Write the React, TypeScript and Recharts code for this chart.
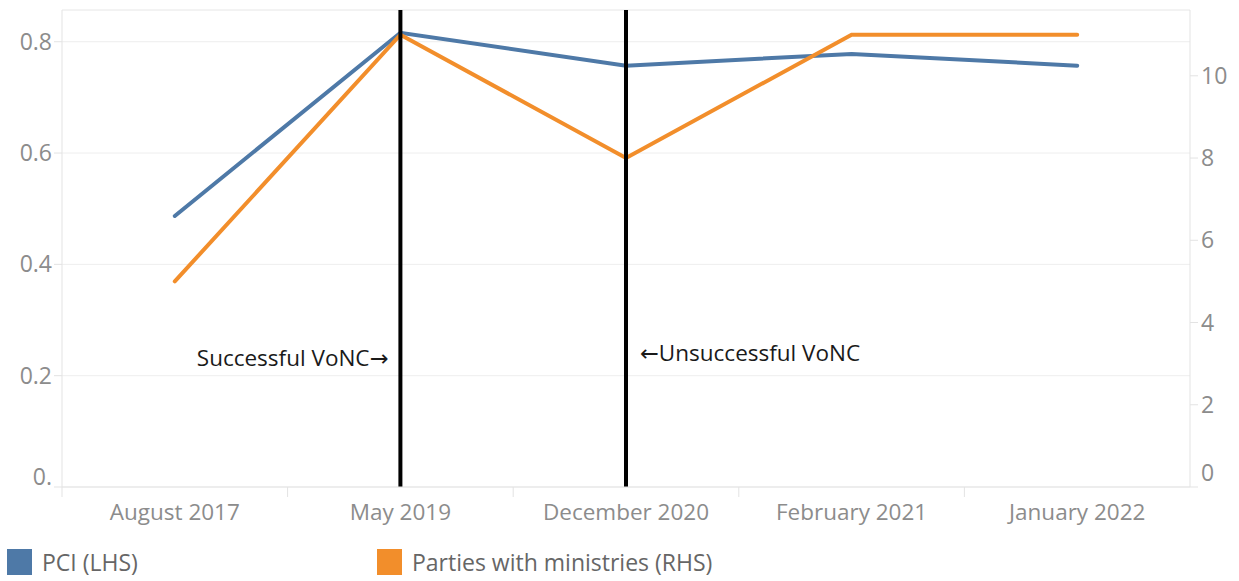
import React from 'react';
import { LineChart, Line, XAxis, YAxis, CartesianGrid, ReferenceLine, Legend } from 'recharts';

const categories = ['August 2017', 'May 2019', 'December 2020', 'February 2021', 'January 2022'];
const pciValues = [0.487, 0.816, 0.757, 0.778, 0.757];
const ministriesValues = [5, 11, 8, 11, 11];
const leftTicks = [0, 0.2, 0.4, 0.6, 0.8];
const rightTicks = [0, 2, 4, 6, 8, 10];
const eventDates = ['May 2019', 'December 2020'];
const eventLabels = ['Successful VoNC', 'Unsuccessful VoNC'];

const LEFT_MAX = 0.857;
const RIGHT_MAX = 11.6;

const BLUE = '#4e79a7';
const ORANGE = '#f28e2b';
const FONT = '"Open Sans", sans-serif';
const AXIS_GREY = '#e3e3e3';
const TICK_GREY = '#8c8c8c';

const data = categories.map((c, i) => ({
    period: c,
    pci: pciValues[i],
    ministries: ministriesValues[i],
}));

const XTick = (props: any) => {
    const { x, y, payload } = props;
    const half = payload.offset || 0;
    return (
        <g>
            <line x1={x - half} x2={x - half} y1={y - 8} y2={y + 2} stroke={AXIS_GREY} />
            <text x={x} y={y + 25} textAnchor="middle" fill={TICK_GREY} fontSize={22.5} fontFamily={FONT}>
                {payload.value}
            </text>
        </g>
    );
};

const YTick = (props: any) => {
    const { x, y, payload, side } = props;
    const shift = payload.value === 0 ? (side === 'left' ? -10 : -14) : 0;
    const label = side === 'left' ? (payload.value === 0 ? '0.' : payload.value.toFixed(1)) : String(payload.value);
    return (
        <text
            x={x}
            y={y + shift + 8}
            textAnchor={side === 'left' ? 'end' : 'start'}
            fill={TICK_GREY}
            fontSize={23}
            fontFamily={FONT}
        >
            {label}
        </text>
    );
};

const EventLabel = (text: string, side: 'left' | 'right', dy: number) => (props: any) => {
    const { viewBox } = props;
    const x = side === 'left' ? viewBox.x - 12 : viewBox.x + 14;
    const arrow = <tspan fontFamily="DejaVu Sans">{side === 'left' ? '\u2192' : '\u2190'}</tspan>;
    return (
        <text
            x={x}
            y={viewBox.y + dy}
            textAnchor={side === 'left' ? 'end' : 'start'}
            fill="#1a1a1a"
            fontSize={22.5}
            fontWeight={500}
            fontFamily={FONT}
        >
            {side === 'right' && arrow}
            {text}
            {side === 'left' && arrow}
        </text>
    );
};

const LegendContent = () => (
    <div
        style={{
            display: 'flex',
            alignItems: 'flex-end',
            height: 49,
            boxSizing: 'border-box',
            paddingBottom: 3,
            fontFamily: FONT,
            fontSize: 23,
            color: '#666',
        }}
    >
        <div style={{ display: 'flex', alignItems: 'center', width: 370, paddingLeft: 7 }}>
            <span style={{ display: 'inline-block', width: 25, height: 26, background: BLUE, marginRight: 10 }} />
            PCI (LHS)
        </div>
        <div style={{ display: 'flex', alignItems: 'center' }}>
            <span style={{ display: 'inline-block', width: 25, height: 26, background: ORANGE, marginRight: 10 }} />
            Parties with ministries (RHS)
        </div>
    </div>
);

export default function App() {
    return (
        <div style={{ position: 'absolute', left: 0, top: 0, background: '#fff' }}>
            <LineChart width={1239} height={581} data={data} margin={{ top: 10, right: 0, left: 0, bottom: 0 }}>
                <CartesianGrid vertical={false} stroke="#eeeeee" yAxisId="left" />
                <XAxis
                    dataKey="period"
                    scale="band"
                    height={45}
                    axisLine={{ stroke: AXIS_GREY }}
                    tickLine={false}
                    tick={<XTick />}
                    interval={0}
                />
                <YAxis
                    yAxisId="left"
                    width={62}
                    domain={[0, LEFT_MAX]}
                    ticks={leftTicks}
                    axisLine={{ stroke: AXIS_GREY }}
                    tickLine={{ stroke: AXIS_GREY }}
                    tickSize={8}
                    tickMargin={2}
                    tick={<YTick side="left" />}
                />
                <YAxis
                    yAxisId="right"
                    orientation="right"
                    width={49}
                    domain={[0, RIGHT_MAX]}
                    ticks={rightTicks}
                    axisLine={{ stroke: AXIS_GREY }}
                    tickLine={{ stroke: AXIS_GREY }}
                    tickSize={8}
                    tickMargin={3}
                    tick={<YTick side="right" />}
                />
                <ReferenceLine yAxisId="left" y={LEFT_MAX} stroke="#eeeeee" />
                <Line
                    yAxisId="left"
                    dataKey="pci"
                    name="PCI (LHS)"
                    stroke={BLUE}
                    strokeWidth={4}
                    strokeLinecap="round"
                    dot={false}
                    activeDot={false}
                    isAnimationActive={false}
                />
                <Line
                    yAxisId="right"
                    dataKey="ministries"
                    name="Parties with ministries (RHS)"
                    stroke={ORANGE}
                    strokeWidth={4}
                    strokeLinecap="round"
                    dot={false}
                    activeDot={false}
                    isAnimationActive={false}
                />
                <ReferenceLine
                    yAxisId="left"
                    x={eventDates[0]}
                    stroke="#000"
                    strokeWidth={4}
                    label={EventLabel(eventLabels[0], 'left', 356)}
                />
                <ReferenceLine
                    yAxisId="left"
                    x={eventDates[1]}
                    stroke="#000"
                    strokeWidth={4}
                    label={EventLabel(eventLabels[1], 'right', 351)}
                />
                <Legend verticalAlign="bottom" align="left" height={49} content={<LegendContent />} />
            </LineChart>
        </div>
    );
}
